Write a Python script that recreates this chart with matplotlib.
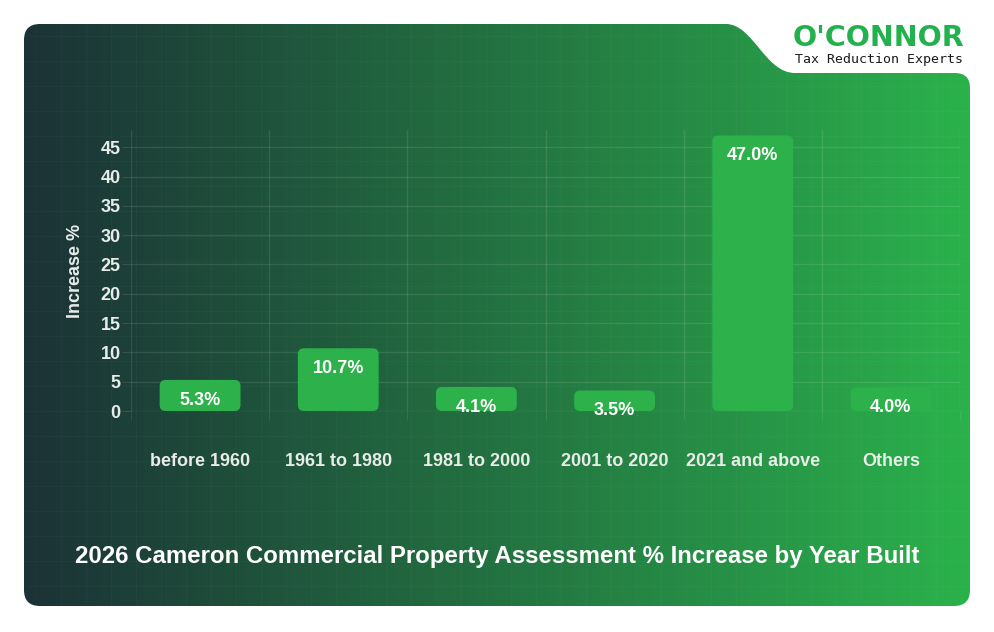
import numpy as np
import matplotlib
matplotlib.use('Agg')
import matplotlib.pyplot as plt
from matplotlib.path import Path
from matplotlib.patches import PathPatch, FancyBboxPatch

# data
categories = ['before 1960', '1961 to 1980', '1981 to 2000', '2001 to 2020', '2021 and above', 'Others']
increase = [5.3, 10.7, 4.1, 3.5, 47.0, 4.0]
y_ticks = [0, 5, 10, 15, 20, 25, 30, 35, 40, 45]
title = '2026 Cameron Commercial Property Assessment % Increase by Year Built'

plt.rcParams['font.family'] = ['Liberation Sans', 'DejaVu Sans']

W, H = 994, 632
fig = plt.figure(figsize=(W / 100, H / 100), dpi=100)
fig.patch.set_facecolor('white')

# background card with the notch in the top right
bg = fig.add_axes([0, 0, 1, 1])
bg.set_xlim(0, W)
bg.set_ylim(H, 0)
bg.axis('off')

L, T, R, B, r = 24, 24, 970, 606, 16
verts = [
    (L + r, T), (726, T),
    (753, T), (765, 73), (795, 73),
    (R - 15, 73),
    (R, 73), (R, 88),
    (R, B - r),
    (R, B), (R - r, B),
    (L + r, B),
    (L, B), (L, B - r),
    (L, T + r),
    (L, T), (L + r, T),
    (L + r, T),
]
codes = [Path.MOVETO, Path.LINETO,
         Path.CURVE4, Path.CURVE4, Path.CURVE4,
         Path.LINETO,
         Path.CURVE3, Path.CURVE3,
         Path.LINETO,
         Path.CURVE3, Path.CURVE3,
         Path.LINETO,
         Path.CURVE3, Path.CURVE3,
         Path.LINETO,
         Path.CURVE3, Path.CURVE3,
         Path.CLOSEPOLY]
card = PathPatch(Path(verts, codes), facecolor='none', edgecolor='none')
bg.add_patch(card)

left_c = np.array([27, 50, 54]) / 255
right_c = np.array([43, 178, 76]) / 255
t = np.linspace(0, 1, 400)[None, :, None]
grad = left_c + (right_c - left_c) * t
im = bg.imshow(grad, extent=(L, R, B, T), aspect='auto', interpolation='bilinear')
im.set_clip_path(card)

# faint background grid
for gx in np.arange(L + 12, R, 25):
    ln = bg.axvline(gx, color='white', alpha=0.025, lw=1)
    ln.set_clip_path(card)
for gy in np.arange(T + 12, B, 25):
    ln = bg.axhline(gy, color='white', alpha=0.025, lw=1)
    ln.set_clip_path(card)

# logo
bg.text(879, 38, "O'CONNOR", family='DejaVu Sans', fontweight='bold', fontsize=20.5,
        color='#22b14c', ha='center', va='center')
bg.text(879, 59, 'Tax Reduction Experts', family='DejaVu Sans Mono', fontsize=9.5,
        color='#1a1a1a', ha='center', va='center')

# chart
ax = fig.add_axes([131 / W, (H - 411) / H, 829 / W, (411 - 130) / H])
ax.set_facecolor('none')
ymax = 47 * 1.02
ax.set_xlim(-0.5, len(categories) - 0.5)
ax.set_ylim(0, ymax)

bar_w = 0.585
px_x = 829 / len(categories)
px_y = 281 / ymax
rad = 6
for i, v in enumerate(increase):
    p = FancyBboxPatch((i - bar_w / 2, 0), bar_w, v,
                       boxstyle=f'round,pad=0,rounding_size={rad / px_x}',
                       mutation_aspect=px_x / px_y,
                       facecolor='#2cb14b', edgecolor='none', zorder=3)
    ax.add_patch(p)
    ax.annotate(f'{v:.1f}%', (i, v), xytext=(0, -8.5), textcoords='offset points',
                ha='center', va='top', color='white', fontsize=13, fontweight='bold', zorder=4)

ax.set_yticks(y_ticks)
ax.set_xticks(range(len(categories)))
ax.set_xticklabels(categories)
ax.set_xticks(np.arange(-0.5, len(categories)), minor=True)
ax.grid(axis='y', color='white', alpha=0.1, lw=1)
ax.grid(axis='x', which='minor', color='white', alpha=0.1, lw=1)
ax.tick_params(axis='x', which='major', length=0, pad=30, labelsize=13, labelcolor='#e8ece9')
ax.tick_params(axis='x', which='minor', length=6.5, color='#ffffff1a')
ax.tick_params(axis='y', length=6.5, color='#ffffff1a', pad=1, labelsize=13, labelcolor='#e8ece9')
for lab in ax.get_xticklabels() + ax.get_yticklabels():
    lab.set_fontweight('bold')
for s in ax.spines.values():
    s.set_visible(False)

ax.set_ylabel('Increase %', color='#e8ece9', fontsize=13, fontweight='bold')
ax.yaxis.set_label_coords(-0.057, 0.5)

fig.text(0.5, 1 - 556 / H, title, ha='center', va='center', color='white',
         fontsize=17.3, fontweight='bold')

fig.savefig('out.png', dpi=100, facecolor='white')
